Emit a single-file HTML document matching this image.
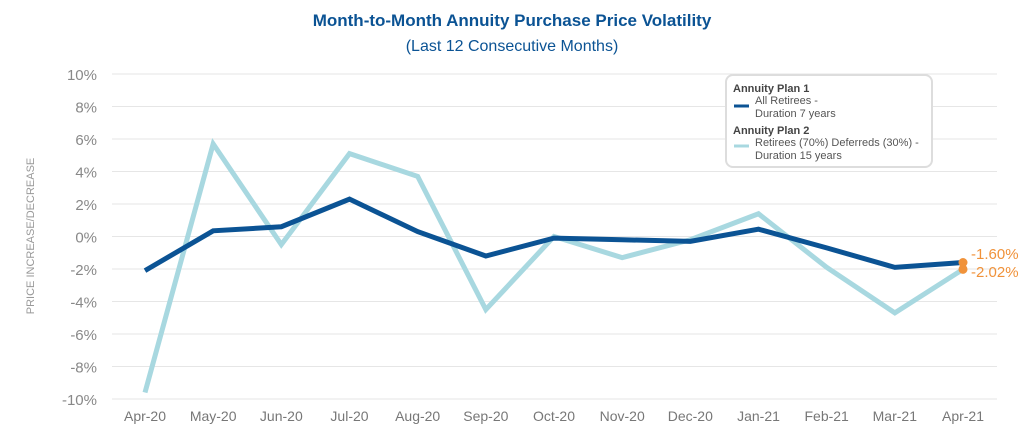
<!DOCTYPE html>
<html><head><meta charset="utf-8"><style>
body{margin:0;background:#fff;font-family:"Liberation Sans",sans-serif;}
</style></head><body>
<svg width="1024" height="434">
<text x="512" y="26" text-anchor="middle" font-size="17" font-weight="bold" fill="#0b5394">Month-to-Month Annuity Purchase Price Volatility</text>
<text x="512" y="51" text-anchor="middle" font-size="16" fill="#0b5394">(Last 12 Consecutive Months)</text>
<text transform="translate(34,236) rotate(-90)" text-anchor="middle" font-size="11" fill="#999">PRICE INCREASE/DECREASE</text>
<g id="grid"></g><g id="series"></g>
<g>
<rect x="726" y="75" width="206" height="92" rx="7" fill="#fff" stroke="#ddd" stroke-width="2"/>
<text x="733" y="92" font-size="11" font-weight="bold" fill="#444">Annuity Plan 1</text>
<line x1="734" y1="106" x2="749" y2="106" stroke="#0b5394" stroke-width="3"/>
<text x="755" y="104" font-size="11" fill="#555">All Retirees -</text>
<text x="755" y="117" font-size="11" fill="#555">Duration 7 years</text>
<text x="733" y="134" font-size="11" font-weight="bold" fill="#444">Annuity Plan 2</text>
<line x1="734" y1="146" x2="749" y2="146" stroke="#a8d8e0" stroke-width="3"/>
<text x="755" y="146" font-size="11" fill="#555">Retirees (70%) Deferreds (30%) -</text>
<text x="755" y="159" font-size="11" fill="#555">Duration 15 years</text>
</g>
</svg>
<script>
const categories=["Apr-20","May-20","Jun-20","Jul-20","Aug-20","Sep-20","Oct-20","Nov-20","Dec-20","Jan-21","Feb-21","Mar-21","Apr-21"];
const plan1=[-2.1,0.35,0.6,2.3,0.3,-1.2,-0.1,-0.2,-0.3,0.45,-0.7,-1.9,-1.6];
const plan2=[-9.6,5.7,-0.5,5.1,3.7,-4.5,0,-1.3,-0.2,1.4,-1.9,-4.7,-2.02];
const yTicks=[10,8,6,4,2,0,-2,-4,-6,-8,-10];
const endLabels=["-1.60%","-2.02%"];
const NS="http://www.w3.org/2000/svg";
const x=i=>145+i*(963-145)/(categories.length-1);
const y=v=>236.5-v*16.25;
function mk(t,a,p){const e=document.createElementNS(NS,t);for(const k in a)e.setAttribute(k,a[k]);p.appendChild(e);return e;}
const g=document.getElementById('grid'),s=document.getElementById('series');
yTicks.forEach(t=>{
 const l=mk('line',{x1:112,x2:997,y1:y(t),y2:y(t),stroke:'#e6e6e6'},g);
 
 
 const tx=mk('text',{x:97,y:y(t)+6,'text-anchor':'end','font-size':15,fill:'#888'},g);
 tx.textContent=t+'%';
 
 
});
categories.forEach((c,i)=>{
 const tx=mk('text',{x:x(i),y:421,'text-anchor':'middle','font-size':14,fill:'#777'},g);
 tx.textContent=c;
 
 
});
function line(d,col,name){
 const p=mk('polyline',{points:d.map((v,i)=>x(i)+','+y(v)).join(' '),fill:'none',stroke:col,'stroke-width':5,'stroke-linejoin':'miter'},s);
 
 
}
line(plan2,'#a8d8e0','plan2-line');
line(plan1,'#0b5394','plan1-line');
[plan1,plan2].forEach((d,k)=>{
 const n=d.length-1;
 const c=mk('circle',{cx:x(n),cy:y(d[n]),r:4.5,fill:'#f0923a'},s);
 
 
 const t=mk('text',{x:971,y:k==0?259:277,'font-size':15,fill:'#f0923a'},s);
 t.textContent=endLabels[k];
 
 
});
</script>
</body></html>
